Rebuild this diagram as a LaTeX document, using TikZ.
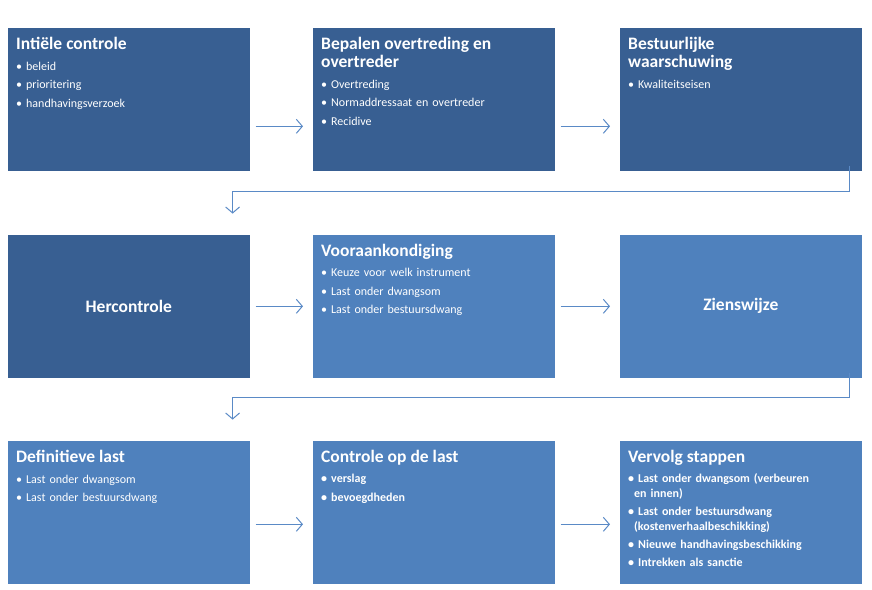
\documentclass[tikz,border=0pt]{standalone}
\usepackage{fontspec}
\setmainfont{Carlito}
\usetikzlibrary{positioning,arrows.meta}
\definecolor{darkblue}{HTML}{385F92}
\definecolor{lightblue}{HTML}{4F81BD}
\definecolor{linkblue}{HTML}{5A8AC6}
\tikzset{
  box/.style={draw=white,line width=0.6pt,minimum width=243pt,minimum height=144pt,anchor=north west,inner sep=0pt},
  dark/.style={box,fill=darkblue},
  light/.style={box,fill=lightblue},
  txt/.style={anchor=north west,text=white,text width=228pt,align=left,inner sep=0pt,font=\fontsize{12}{18.5}\selectfont},
  mid/.style={text=white,font=\fontsize{17.5}{23}\selectfont\bfseries},
  link/.style={draw=linkblue,line width=1pt,-{Straight Barb[length=6pt,width=14pt,line width=1pt]}}
}
\newcommand{\ttl}{\fontsize{17.5}{23}\selectfont\bfseries}
\newcommand{\bul}{\textbullet\ }
\begin{document}
\begin{tikzpicture}[x=1pt,y=-1pt]
\useasboundingbox (0,0) rectangle (872,589);
% row 1
\node[dark] (a1) at (7,27) {};
\node[dark] (a2) at (312,27) {};
\node[dark] (a3) at (619,27) {};
% row 2
\node[dark] (b1) at (7,234) {};
\node[light] (b2) at (312,234) {};
\node[light] (b3) at (619,234) {};
% row 3
\node[light] (c1) at (7,440) {};
\node[light] (c2) at (312,440) {};
\node[light] (c3) at (619,440) {};

\node[txt] (ta1) at (16,37) {{\ttl Intiële controle}\\[2pt]\bul beleid\\\bul prioritering\\\bul handhavingsverzoek};
\node[txt] (ta2) at (321,37) {{\ttl Bepalen overtreding en\\overtreder}\\[2pt]\bul Overtreding\\\bul Normaddressaat en overtreder\\\bul Recidive};
\node[txt] (ta3) at (628,37) {{\ttl Bestuurlijke\\waarschuwing}\\[2pt]\bul Kwaliteitseisen};
\node[mid] (tb1) at (b1.center) {Hercontrole};
\node[txt] (tb2) at (321,244) {{\ttl Vooraankondiging}\\[2pt]\bul Keuze voor welk instrument\\\bul Last onder dwangsom\\\bul Last onder bestuursdwang};
\node[mid] (tb3) at (b3.center) {Zienswijze};
\node[txt] (tc1) at (16,450) {{\ttl Definitieve last}\\[2pt]\bul Last onder dwangsom\\\bul Last onder bestuursdwang};
\node[txt] (tc2) at (321,450) {{\ttl Controle op de last}\\[2pt]\bfseries\bul verslag\\\bul bevoegdheden};
\node[txt,font=\fontsize{12}{15}\selectfont] (tc3) at (628,450) {{\ttl Vervolg stappen}\\[5pt]\bfseries
\bul Last onder dwangsom (verbeuren\\\hspace*{6pt}en innen)\\[3pt]\bul Last onder bestuursdwang\\\hspace*{6pt}(kostenverhaalbeschikking)\\[3pt]\bul Nieuwe handhavingsbeschikking\\[3pt]\bul Intrekken als sanctie};

% connectors
\draw[link] ([xshift=5pt,yshift=-27pt]a1.east) -- ([xshift=-9pt,yshift=-27pt]a2.west);
\draw[link] ([xshift=5pt,yshift=-27pt]a2.east) -- ([xshift=-9pt,yshift=-27pt]a3.west);
\draw[link] ([xshift=5pt]b1.east) -- ([xshift=-9pt]b2.west);
\draw[link] ([xshift=5pt]b2.east) -- ([xshift=-9pt]b3.west);
\draw[link] ([xshift=5pt,yshift=-12pt]c1.east) -- ([xshift=-9pt,yshift=-12pt]c2.west);
\draw[link] ([xshift=5pt,yshift=-12pt]c2.east) -- ([xshift=-9pt,yshift=-12pt]c3.west);
\draw[link] ([xshift=-13pt,yshift=6pt]a3.south east) |- ++(-617,26) -- ++(0,22);
\draw[link] ([xshift=-13pt,yshift=6pt]b3.south east) |- ++(-617,25) -- ++(0,22);
\end{tikzpicture}
\end{document}
